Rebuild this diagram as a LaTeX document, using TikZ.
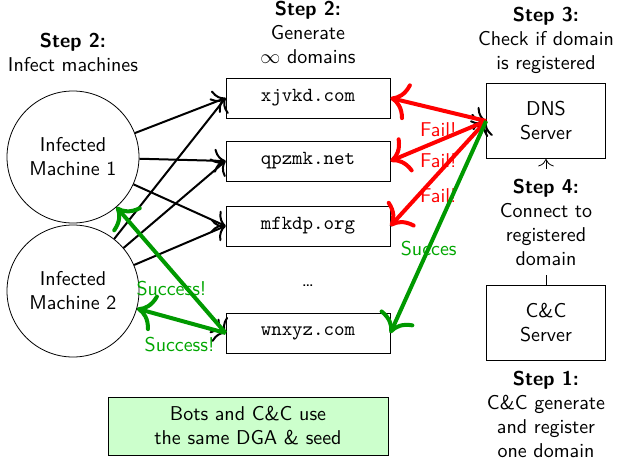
\documentclass[tikz,border=0pt]{standalone}
\renewcommand{\familydefault}{\sfdefault}
\usetikzlibrary{arrows.meta}

\begin{document}
\begin{tikzpicture}[
x=0.5pt, y=-0.5pt,
>={To[scale=1.5]},
machinenode/.style={draw, circle, minimum size=66pt, align=center},
dombox/.style={draw, minimum width=82pt, minimum height=20pt, font=\ttfamily},
serverbox/.style={draw, minimum width=59.5pt, minimum height=37.5pt, align=center},
steptitle/.style={align=center},
queryline/.style={->, line width=1pt},
failarrow/.style={->, line width=2pt, red},
okarrow/.style={->, line width=2pt, green!60!black},
oklabel/.style={text=green!65!black}
]

\useasboundingbox (0,0) rectangle (618,461);

% infected machines
\node[steptitle] (T1) at (73,52) {\textbf{Step 2:}\\Infect machines};
\node[machinenode] (M1) at (73,157) {Infected\\Machine 1};
\node[machinenode] (M2) at (73,291) {Infected\\Machine 2};

% generated domains
\node[steptitle] (T2) at (308,32) {\textbf{Step 2:}\\Generate\\$\infty$ domains};
\node[dombox] (D1) at (308,98) {xjvkd.com};
\node[dombox] (D2) at (308,161) {qpzmk.net};
\node[dombox] (D3) at (308,226) {mfkdp.org};
\node (DOTS) at (308,286) {\dots};
\node[dombox] (D4) at (308,333) {wnxyz.com};

% servers
\node[steptitle] (T3) at (546,40) {\textbf{Step 3:}\\Check if domain\\is registered};
\node[serverbox] (DNS) at (546,121) {DNS\\Server};
\node[serverbox] (CC) at (546,323) {C\&C\\Server};
\node[steptitle] (T5) at (546,414) {\textbf{Step 1:}\\C\&C generate\\and register\\one domain};

\node[draw, fill=green!20, minimum width=140pt, minimum height=29pt, align=center] (NOTE) at (248,426)
{Bots and C\&C use\\the same DGA \& seed};

% bots query every domain
\foreach \m in {M1,M2}
\foreach \d in {D1,D2,D3,D4}
\draw[queryline] (\m) -- (\d.west);

\foreach \d in {D1,D2,D3,D4}
\draw[queryline] (\d.east) -- (DNS.west);

\draw[->] (CC.north) -- node[steptitle, fill=white, inner sep=5pt] (T4)
{\textbf{Step 4:}\\Connect to\\registered\\domain} (DNS.south);

% answers
\draw[failarrow] (DNS.west) -- node[below=2pt, text=red] {Fail!} (D1.east);
\draw[failarrow] (DNS.west) -- node[below=2pt, text=red] {Fail!} (D2.east);
\draw[failarrow] (DNS.west) -- node[below=3pt, text=red] {Fail!} (D3.east);
\draw[okarrow] (DNS.west) -- node[pos=0.6, oklabel] {Succes} (D4.east);

\draw[okarrow] (D4.west) -- node[pos=0.35, xshift=-8pt, oklabel] {Success!} (M1);
\draw[okarrow] (D4.west) -- node[pos=0.52, below=4pt, oklabel] {Success!} (M2);

\end{tikzpicture}
\end{document}
